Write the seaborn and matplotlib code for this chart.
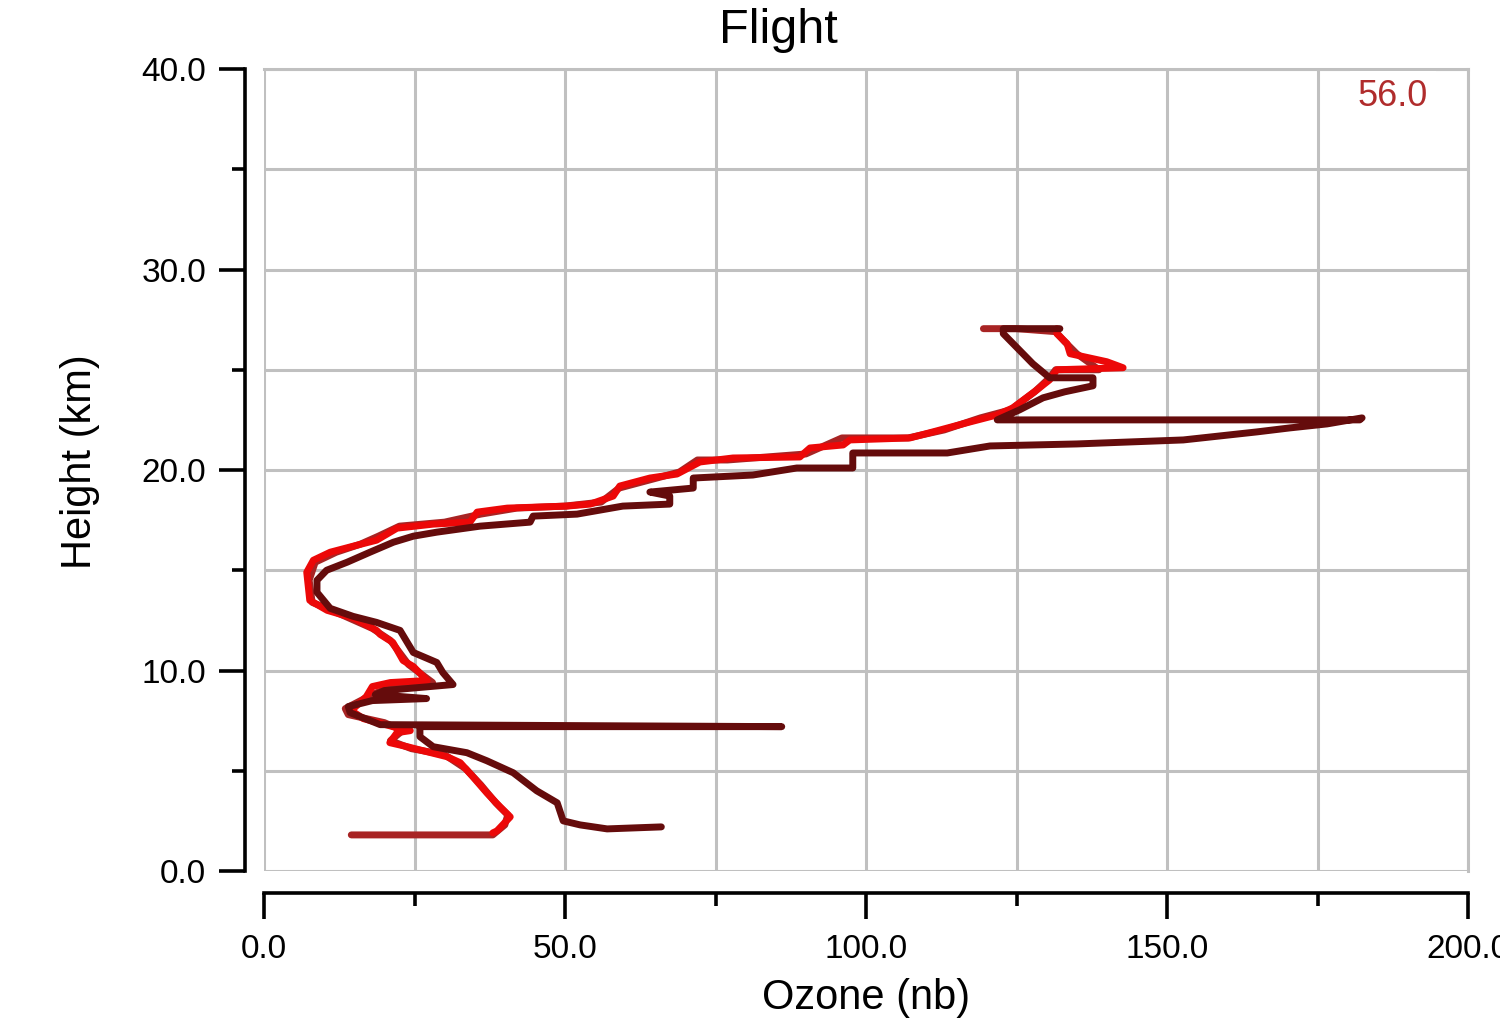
import matplotlib
matplotlib.use("Agg")
import matplotlib.pyplot as plt
from matplotlib.ticker import MultipleLocator, FormatStrFormatter
import seaborn as sns

# ozone profile traces (ozone in nb, height in km)
dark_ozone = [66.0, 57.0, 52.5, 49.7, 48.7, 45.3, 41.4, 37.0, 33.7, 28.1, 25.9, 25.9, 86.0, 19.3,
              14.3, 14.0, 18.0, 27.0, 18.5, 20.0, 31.4, 29.7, 28.7, 24.8, 22.6, 18.7, 14.8, 11.0,
              8.8, 8.8, 10.4, 13.8, 17.6, 21.5, 24.8, 28.7, 35.9, 44.2, 44.7, 52.0, 59.6, 67.4,
              67.4, 64.1, 71.3, 71.3, 81.2, 88.5, 97.8, 97.8, 113.5, 120.6, 135.0, 152.7, 158.8,
              164.9, 170.4, 176.6, 182.4, 182.0, 121.8, 125.5, 129.4, 133.0, 137.7, 137.7, 130.5,
              127.7, 122.8, 122.8, 132.2]
dark_height = [2.2, 2.1, 2.3, 2.5, 3.4, 4.0, 4.9, 5.5, 5.9, 6.2, 6.7, 7.2, 7.2, 7.3,
               7.9, 8.2, 8.5, 8.6, 8.8, 9.0, 9.3, 9.9, 10.4, 10.9, 12.0, 12.4, 12.7, 13.1,
               13.9, 14.5, 15.0, 15.4, 15.9, 16.4, 16.7, 16.9, 17.2, 17.4, 17.7, 17.8, 18.2, 18.3,
               18.7, 18.9, 19.1, 19.6, 19.75, 20.1, 20.1, 20.85, 20.85, 21.2, 21.3, 21.5, 21.7,
               21.9, 22.1, 22.3, 22.6, 22.5, 22.5, 23.0, 23.6, 23.9, 24.2, 24.6, 24.6,
               25.3, 26.8, 27.05, 27.05]

bright_ozone = [38.0, 38.7, 40.9, 39.2, 37.0, 34.7, 32.6, 30.4, 26.4, 23.8, 20.9, 22.1, 24.3, 21.4,
                16.5, 14.5, 17.0, 18.0, 21.0, 27.1, 24.8, 23.1, 21.4, 19.3, 18.7, 15.0, 10.5, 7.6,
                7.1, 8.2, 11.0, 14.8, 18.7, 22.1, 28.1, 34.2, 35.4, 40.4, 50.3, 54.2, 58.0, 59.1,
                64.1, 68.6, 72.4, 77.9, 89.0, 90.7, 96.2, 97.3, 107.3, 111.1, 117.3, 121.8, 124.4,
                128.4, 130.5, 131.7, 142.7, 140.0, 133.9, 133.4, 131.7, 131.7]
bright_height = [1.9, 2.0, 2.7, 3.2, 3.9, 4.7, 5.4, 5.7, 6.0, 6.2, 6.4, 6.9, 7.0, 7.2,
                 7.6, 8.0, 8.7, 9.2, 9.4, 9.5, 10.2, 10.5, 11.4, 11.8, 12.0, 12.6, 13.0, 13.5,
                 14.9, 15.5, 15.9, 16.2, 16.5, 17.1, 17.3, 17.4, 17.9, 18.1, 18.2, 18.3, 18.7, 19.2,
                 19.6, 19.8, 20.4, 20.6, 20.65, 21.1, 21.25, 21.5, 21.6, 21.9, 22.4, 22.75, 23.1,
                 24.0, 24.5, 25.0, 25.1, 25.4, 25.8, 26.3, 26.8, 27.05]

medium_ozone = [14.5, 38.0, 40.0, 40.5, 38.5, 36.0, 33.5, 30.0, 24.5, 21.0, 23.0, 20.0, 14.0, 13.5,
                18.0, 22.0, 28.0, 24.0, 21.0, 18.0, 12.0, 8.0, 7.5, 8.5, 12.0, 16.0, 19.0, 22.5,
                30.0, 36.0, 42.0, 50.0, 56.0, 59.0, 64.0, 69.0, 72.0, 77.0, 90.0, 96.0, 107.0,
                113.0, 119.0, 124.0, 128.0, 130.5, 131.5, 138.7, 135.0, 133.0, 131.5, 125.0, 119.5]
medium_height = [1.8, 1.8, 2.3, 2.8, 3.4, 4.3, 5.1, 5.8, 6.1, 6.5, 7.0, 7.4, 7.8, 8.1,
                 8.8, 9.3, 9.4, 10.3, 11.5, 12.1, 12.9, 13.4, 14.5, 15.4, 15.9, 16.3, 16.7, 17.2,
                 17.4, 17.8, 18.1, 18.2, 18.4, 19.1, 19.5, 19.9, 20.5, 20.5, 20.8, 21.6, 21.6,
                 22.0, 22.6, 23.0, 23.9, 24.6, 25.0, 25.0, 25.8, 26.4, 26.9, 27.05, 27.05]

sns.set_style("white")
plt.rcParams['font.family'] = ['Liberation Sans', 'DejaVu Sans']
plt.rcParams['text.color'] = 'black'
plt.rcParams['axes.labelcolor'] = 'black'
plt.rcParams['xtick.color'] = 'black'
plt.rcParams['ytick.color'] = 'black'

fig = plt.figure(figsize=(15, 10.18), dpi=100)
ax = fig.add_axes([0.176, 0.1444, 0.8027, 0.7878])

lw = 5
sns.lineplot(x=medium_ozone, y=medium_height, sort=False, estimator=None,
             color='#a82424', lw=lw, ax=ax, zorder=3)
sns.lineplot(x=bright_ozone, y=bright_height, sort=False, estimator=None,
             color='#ec0808', lw=lw, ax=ax, zorder=4)
sns.lineplot(x=dark_ozone, y=dark_height, sort=False, estimator=None,
             color='#650c0c', lw=lw, ax=ax, zorder=5)

ax.set_xlim(0, 200)
ax.set_ylim(0, 40)
ax.xaxis.set_major_locator(MultipleLocator(50))
ax.xaxis.set_minor_locator(MultipleLocator(25))
ax.yaxis.set_major_locator(MultipleLocator(10))
ax.yaxis.set_minor_locator(MultipleLocator(5))
ax.xaxis.set_major_formatter(FormatStrFormatter('%.1f'))
ax.yaxis.set_major_formatter(FormatStrFormatter('%.1f'))

ax.grid(True, which='both', color='#c0c0c0', lw=2.2)
ax.set_axisbelow(True)

for side in ['top', 'right']:
    ax.spines[side].set_color('#c0c0c0')
    ax.spines[side].set_linewidth(2.2)
ax.spines['left'].set_position(('outward', 14))
ax.spines['bottom'].set_position(('outward', 16))
for side in ['left', 'bottom']:
    ax.spines[side].set_color('black')
    ax.spines[side].set_linewidth(2.6)

ax.tick_params(which='major', direction='out', length=18.5, width=2.6, color='black',
               labelsize=24, labelcolor='black', left=True, bottom=True)
ax.tick_params(which='minor', direction='out', length=9.5, width=2.6, color='black',
               left=True, bottom=True)
ax.tick_params(axis='y', which='major', pad=9)
ax.tick_params(axis='x', which='major', pad=11)

ax.set_xlabel('Ozone (nb)', fontsize=30)
ax.set_ylabel('Height (km)', fontsize=30)
ax.xaxis.set_label_coords(0.5, -0.134)
ax.yaxis.set_label_coords(-0.136, 0.51)

fig.text(0.519, 0.992, 'Flight', ha='center', va='top', fontsize=35)

ax.text(187.5, 38.65, '56.0', ha='center', va='center', color='#b02c2c', fontsize=26,
        zorder=10, clip_on=False,
        bbox=dict(boxstyle='square,pad=0.22', fc='white', ec='none'))

fig.savefig('out.png', dpi=100)
